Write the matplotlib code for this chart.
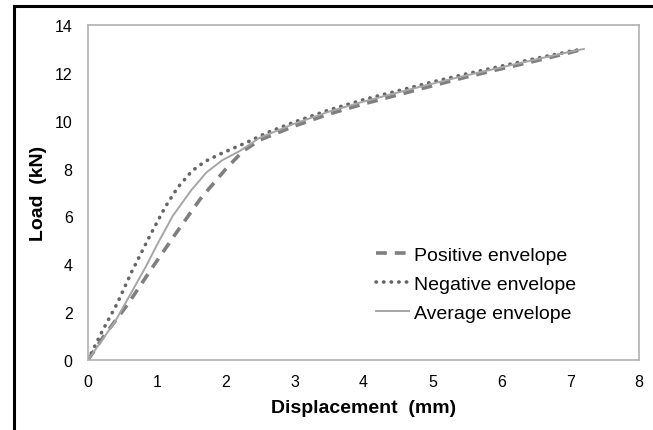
import matplotlib
matplotlib.use("Agg")
import matplotlib.pyplot as plt
from matplotlib.lines import Line2D

plt.rcParams["font.family"] = ["Liberation Sans", "DejaVu Sans"]

# displacement (mm) / load (kN)
pos_disp = [0.0, 0.22, 0.58, 0.94, 1.29, 1.63, 2.0, 2.25, 2.5, 3.0, 3.5, 4.0, 4.5, 5.0, 5.5, 6.0, 6.5, 7.0, 7.2]
pos_load = [0.0, 0.96, 2.34, 3.89, 5.35, 6.73, 7.98, 8.73, 9.2, 9.78, 10.28, 10.7, 11.08, 11.46, 11.83, 12.17, 12.5, 12.85, 13.0]

neg_disp = [0.0, 0.2, 0.42, 0.64, 0.9, 1.12, 1.3, 1.51, 1.7, 1.92, 2.31, 2.6, 3.0, 3.5, 4.0, 4.5, 5.0, 5.5, 6.0, 6.5, 7.0, 7.2]
neg_load = [0.0, 1.17, 2.34, 3.72, 5.2, 6.39, 7.2, 7.9, 8.3, 8.61, 9.1, 9.5, 9.95, 10.45, 10.88, 11.25, 11.62, 11.96, 12.28, 12.6, 12.9, 13.0]

avg_disp = [0.0, 0.39, 0.83, 1.0, 1.23, 1.5, 1.72, 1.95, 2.2, 2.5, 3.0, 3.5, 4.0, 4.5, 5.0, 5.5, 6.0, 6.5, 7.0, 7.2]
avg_load = [0.0, 1.59, 3.85, 4.8, 6.02, 7.1, 7.84, 8.35, 8.73, 9.3, 9.88, 10.38, 10.8, 11.18, 11.55, 11.9, 12.23, 12.56, 12.88, 13.0]

fig = plt.figure(figsize=(6.53, 4.31), dpi=100)
ax = fig.add_axes([88 / 653, 1 - 361 / 431, (639 - 88) / 653, (361 - 26) / 431])

ax.plot(pos_disp, pos_load, color="#7f7f7f", lw=2.6, ls=(0, (3, 2.2)), label="Positive envelope")
ax.plot(neg_disp, neg_load, color="#666666", lw=2.6, ls=(0, (0.1, 2)), dash_capstyle="round",
        label="Negative envelope")
ax.plot(avg_disp, avg_load, color="#a6a6a6", lw=1.4, label="Average envelope")

ax.set_xlim(0, 8)
ax.set_ylim(0, 14)
ax.set_xticks(range(0, 9))
ax.set_yticks(range(0, 15, 2))
for s in ax.spines.values():
    s.set_color("#b0b0b0")
    s.set_linewidth(1.2)
ax.tick_params(length=0, labelsize=11.5)
ax.tick_params(axis="y", pad=11)
ax.tick_params(axis="x", pad=10)

ax.set_xlabel("Displacement  (mm)", fontsize=14, fontweight="bold", labelpad=7)
ax.set_ylabel("Load  (kN)", fontsize=14, fontweight="bold", labelpad=6)

ax.legend(loc="upper left", bbox_to_anchor=(0.522, 0.34), frameon=False, fontsize=14,
          handlelength=1.7, handletextpad=0.25, labelspacing=0.6, borderpad=0, borderaxespad=0)

# outer frame (left and top only visible)
fig.add_artist(Line2D([14 / 653, 14 / 653], [0, 1 - 7 / 431], color="black", lw=2.2,
                      transform=fig.transFigure))
fig.add_artist(Line2D([14 / 653, 1], [1 - 7 / 431, 1 - 7 / 431], color="black", lw=2.2,
                      transform=fig.transFigure))

fig.savefig("out.png", dpi=100)
